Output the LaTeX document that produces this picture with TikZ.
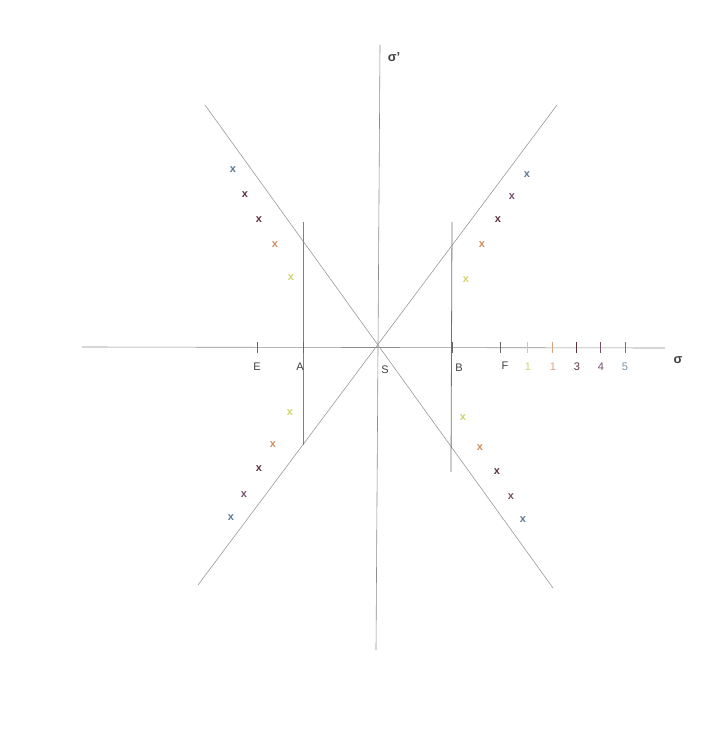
\documentclass[tikz,border=0pt]{standalone}
\usepackage{fontspec}
\setmainfont{Liberation Sans}
\begin{document}
\begin{tikzpicture}[x=1pt,y=-1pt,
  axis/.style={draw=black!45,line width=0.6pt},
  guide/.style={draw=black!40,line width=0.6pt},
  tick/.style={draw=black!60,line width=1pt},
  lbl/.style={font=\fontsize{11}{11}\selectfont,text=black!75,inner sep=1pt},
  sig/.style={font=\bfseries\fontsize{13}{13}\selectfont,text=black!75,inner sep=1pt},
  cross/.style={font=\bfseries\fontsize{11}{11}\selectfont,inner sep=0pt}]
\useasboundingbox (0,0) rectangle (723,731);
\definecolor{cyel}{RGB}{210,210,110}
\definecolor{cora}{RGB}{210,140,90}
\definecolor{cdark}{RGB}{95,50,60}
\definecolor{cpur}{RGB}{120,80,110}
\definecolor{cblu}{RGB}{90,120,150}
% axes
\coordinate (S) at (378,347);
\coordinate (xl) at (82,347);
\coordinate (xr) at (665,348);
\coordinate (yt) at (380,45);
\coordinate (yb) at (376,650);
\draw[axis] (xl) -- (xr);
\draw[axis] (yt) -- (yb);
% asymptotes
\coordinate (d1a) at (205,105);
\coordinate (d1b) at (553,588);
\coordinate (d2a) at (557,105);
\coordinate (d2b) at (198,585);
\draw[guide] (d1a) -- (d1b);
\draw[guide] (d2a) -- (d2b);
% vertical lines at A and B
\coordinate (At) at (303,222); \coordinate (Ab) at (303,445);
\coordinate (Bt) at (452,222); \coordinate (Bb) at (451,472);
\draw[guide,draw=black!50] (At) -- (Ab);
\draw[guide,draw=black!55,line width=0.8pt] (Bt) -- (Bb);
% ticks
\foreach \x/\c in {257/black!60,303/black!60,452/black!60,500/black!60,527/cyel,552/cora!80,576/cdark,600/cpur,625/cblu}
  \draw[tick,draw=\c] (\x,342) -- (\x,353);
% labels
\node[lbl] (lE) at (257,367) {E};
\node[lbl] (lA) at (300,367) {A};
\node[lbl] (lS) at (385,370) {S};
\node[lbl] (lB) at (459,368) {B};
\node[lbl] (lF) at (505,366) {F};
\node[lbl,text=cyel] (l1) at (528,367) {1};
\node[lbl,text=cora!80] (l2) at (553,367) {1};
\node[lbl,text=cdark] (l3) at (577,367) {3};
\node[lbl,text=cpur] (l4) at (601,367) {4};
\node[lbl,text=cblu!80] (l5) at (625,367) {5};
\node[sig] (lsig) at (678,360) {σ};
\node[sig] (lsigp) at (394,57) {σ'};
% crosses
\foreach \x/\y/\c [count=\i] in {
  233/170/cblu,245/195/cdark,259/220/cdark,275/245/cora,291/278/cyel,
  527/175/cblu,512/197/cpur,498/220/cdark,482/245/cora,466/280/cyel,
  290/413/cyel,273/445/cora,259/469/cdark,244/495/cpur,231/518/cblu,
  463/418/cyel,480/448/cora,497/472/cdark,511/497/cpur,523/520/cblu}
  \node[cross,text=\c] (x\i) at (\x,\y) {x};
\end{tikzpicture}
\end{document}
